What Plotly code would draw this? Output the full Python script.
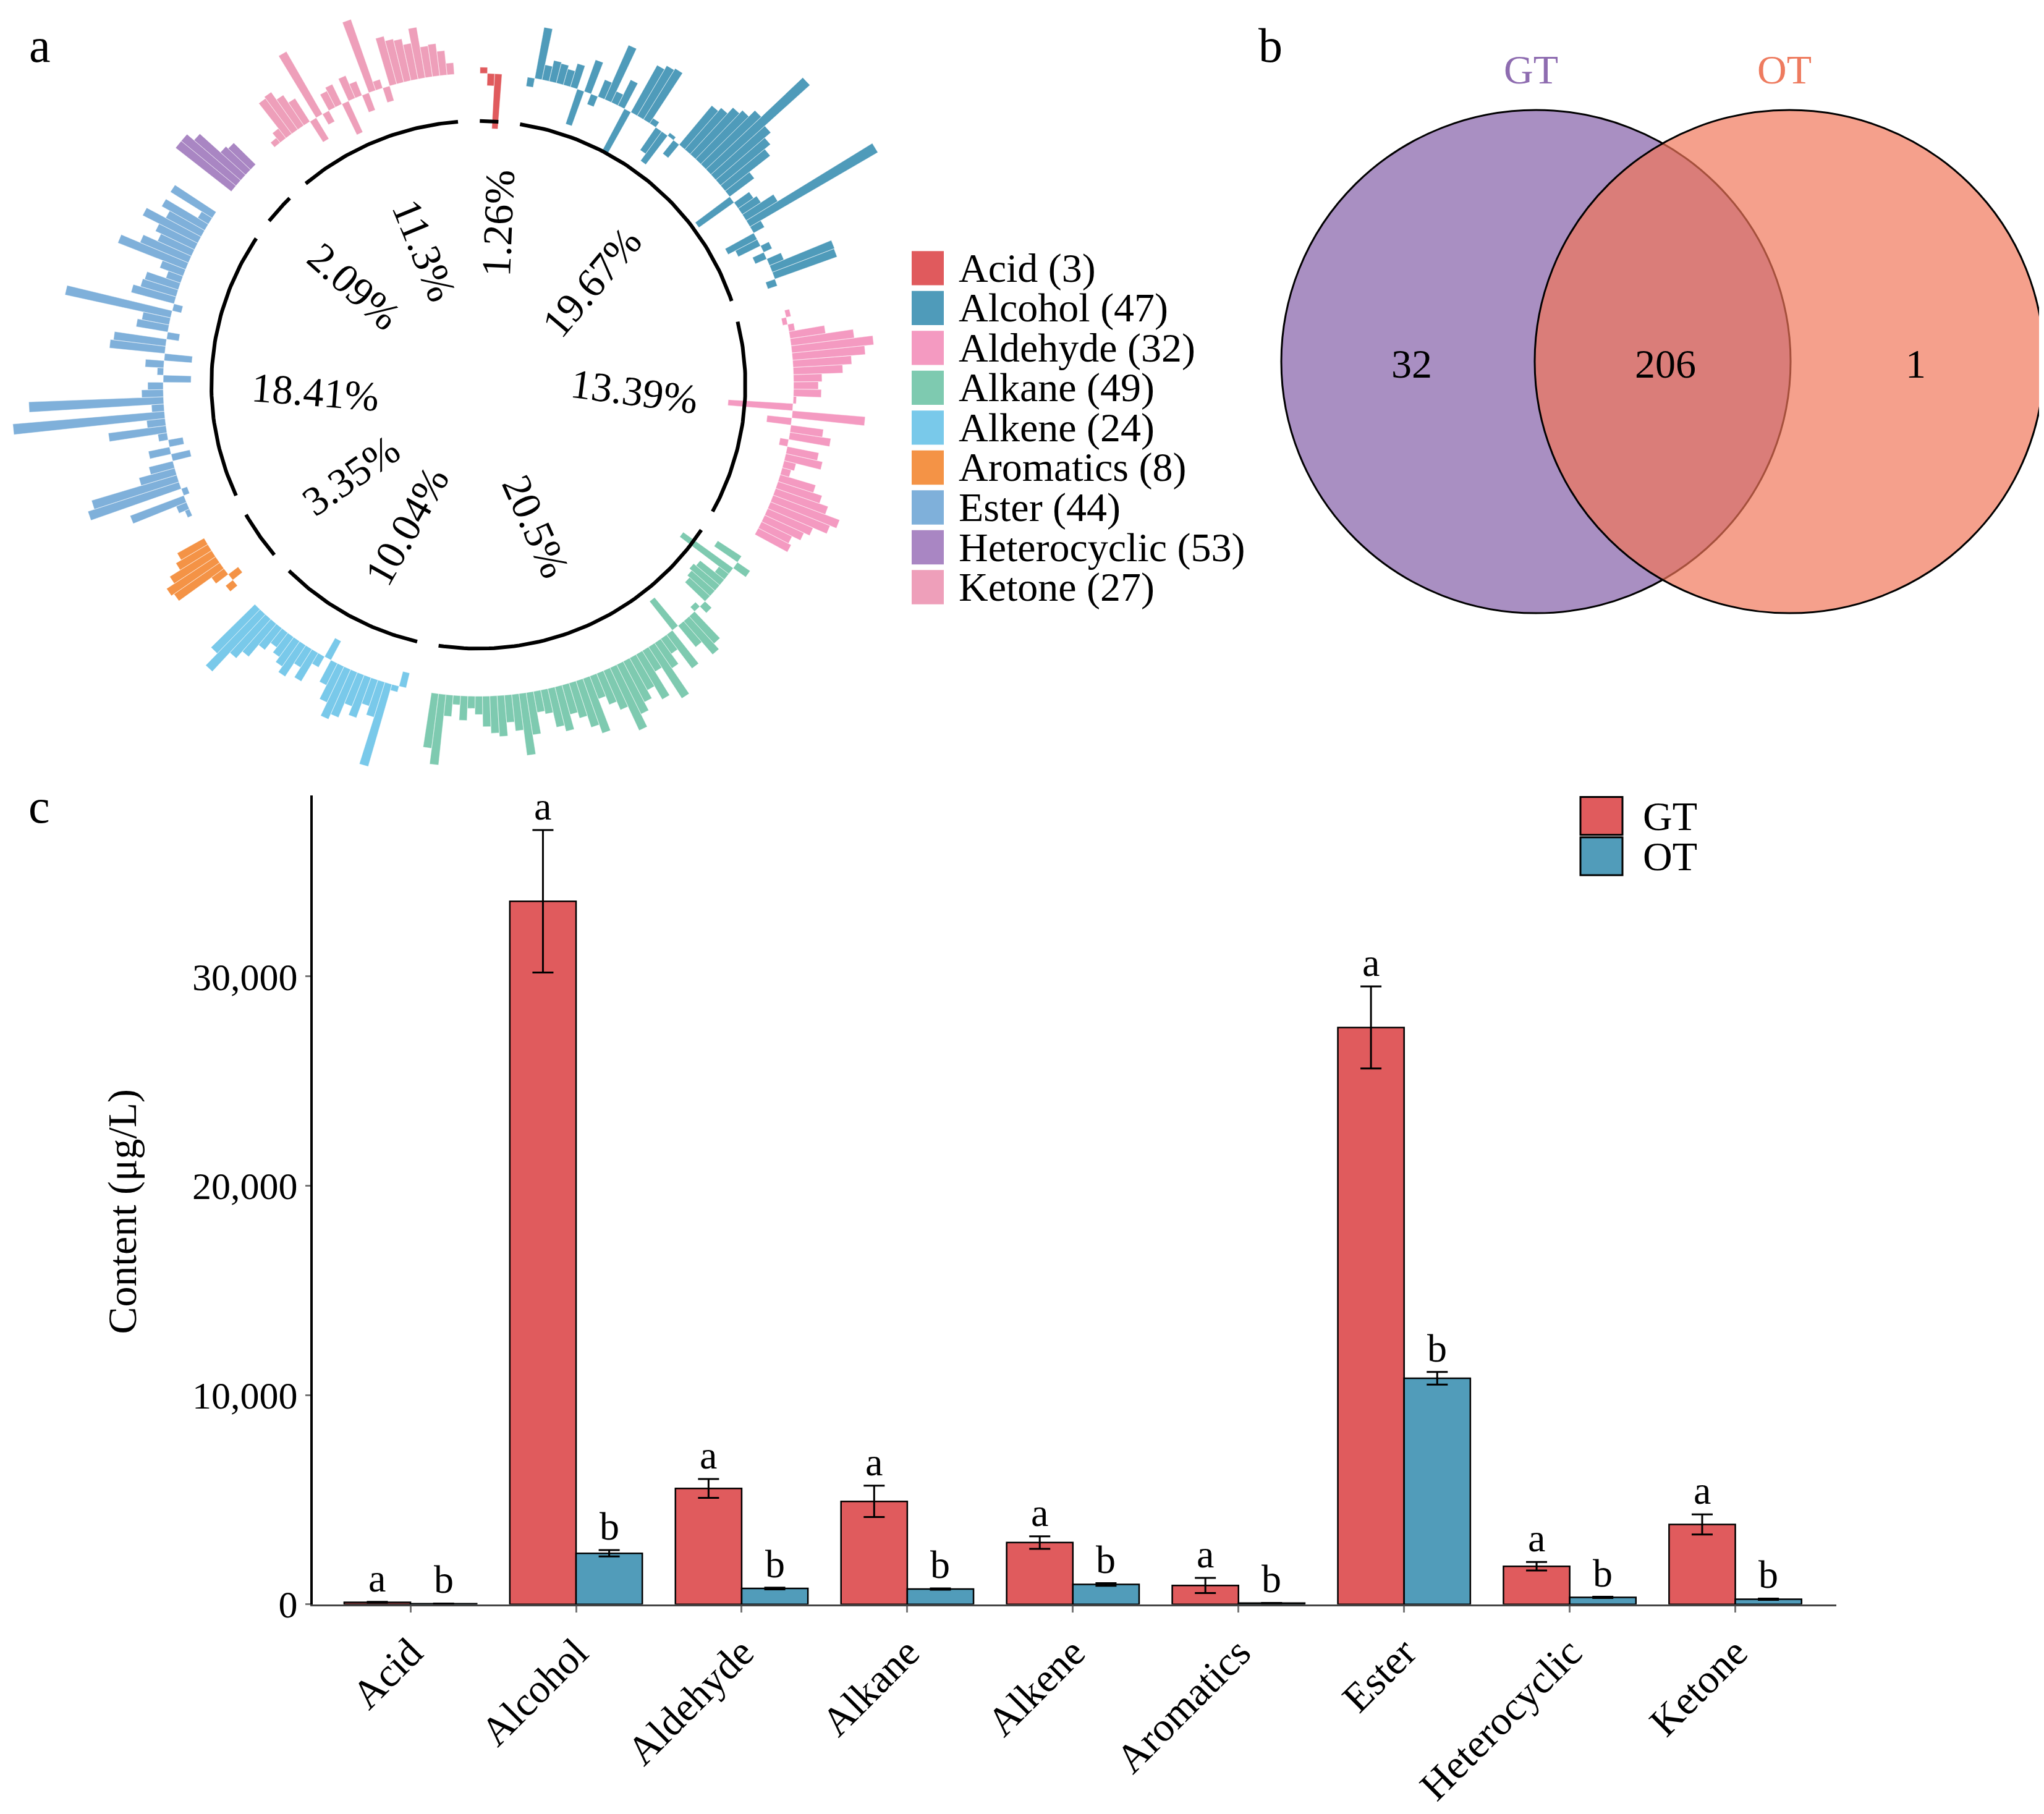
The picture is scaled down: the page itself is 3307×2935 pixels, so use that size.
import math
import plotly.graph_objects as go

W, H = 3307, 2935
FONT = "Liberation Serif"

# ---------------- Panel a data ----------------
classes = ["Acid", "Alcohol", "Aldehyde", "Alkane", "Alkene", "Aromatics", "Ester", "Heterocyclic", "Ketone"]
legend_counts = [3, 47, 32, 49, 24, 8, 44, 53, 27]
class_colors = ["#E05A5D", "#4F9BBA", "#F49AC1", "#7ECAB0", "#79C9EA", "#F49346", "#7FB0DA", "#A986C3", "#EE9FBA"]

# radial bar values (outward > 0, inward < 0, relative to the baseline ring)
acid_vals = [10, -20, -90]
alcohol_vals = [-15, 85, 25, 35, 33, 27, 40, -60, 55, -18, 30, 97, 20, 47, -80, 88, 95, 98, 10, -45,
                -59, 6, -28, 83, 90, 103, 110, 124, 217, 118, 105, 93, 50, -70, 30, 36, 60, 240, 20, -53,
                -40, 15, -20, 25, 108, 107, -16]
aldehyde_vals = [8, -8, 10, 58, 103, 133, 118, 95, 80, 46, 40, 45, 5, -105, 118, -40, 53, 67, -14, 52,
                 61, 20, 15, 60, 75, 90, 115, 104, 80, 70, 55, 60]
alkane_vals = [-46, 25, -100, -20, -50, -55, -50, -45, 15, -10, 60, 72, 45, -60, 69, 30, 50, 100, 40, 85,
               60, 75, 90, 113, 70, 55, 40, 95, 80, 60, 50, 75, 65, 40, 35, 70, 102, 60, 45, 67,
               61, 50, 30, 20, 40, 15, 35, 116, 90]
alkene_vals = [-25, 10, 140, 60, 45, 70, 55, 80, 89, 65, 40, -35, 20, 54, 35, 61, 50, 40, 30, 45,
               70, 85, 127, 100]
aromatics_vals = [15, -20, 25, 90, 95, 80, 60, 50]
ester_vals = [8, 18, 93, -10, 155, 144, 60, 40, -31, 35, -24, 15, 94, 30, 246, 20, 218, 35, 25, -45,
              10, 30, -45, 90, 85, -20, 52, 45, 175, -15, 72, 60, 57, 25, 40, 118, 85, 60, 70, 100,
              65, 80, 20, 80]
heterocyclic_vals = [115, 115, 100, 55, 50]
ketone_vals = [10, 20, 72, 75, 60, 45, -40, 118, -20, 30, 36, -56, 40, 25, -30, 123, 15, -25, 81, 73,
               70, 60, 84, 51, 53, 40, 19]
circ_values = [acid_vals, alcohol_vals, aldehyde_vals, alkane_vals, alkene_vals, aromatics_vals,
               ester_vals, heterocyclic_vals, ketone_vals]

# ---------------- Panel b data ----------------
venn_sets = ["GT", "OT"]
venn_counts = [32, 206, 1]  # GT only, shared, OT only

# ---------------- Panel c data ----------------
bar_categories = ["Acid", "Alcohol", "Aldehyde", "Alkane", "Alkene", "Aromatics", "Ester", "Heterocyclic", "Ketone"]
gt_values = [100, 33590, 5535, 4920, 2950, 900, 27560, 1820, 3820]
gt_errors = [20, 3400, 450, 750, 300, 360, 1960, 200, 480]
ot_values = [30, 2440, 760, 730, 950, 60, 10800, 330, 245]
ot_errors = [10, 150, 40, 30, 60, 10, 300, 30, 30]
gt_letters = ["a"] * 9
ot_letters = ["b"] * 9
y_ticks = [0, 10000, 20000, 30000]

# ---------------- layout constants ----------------
CX, CY = 766, 622          # centre of the circular plot (px from top-left)
A_W, A_H = 1440, 1250      # pixel box of the circular panel
BASE_R = 510
RING_R = 432
BAR_DEG = 1.33
START_DEG = 0.3
LABEL_ANG = [6.7, 47.5, 92.5, 158, 206.6, 234.4, 267.6, 308.9, 338.5]
LABEL_R = [266, 249, 253, 250, 259, 254, 264, 258, 237]


def px(x):
    return x / W


def py(y):
    return 1 - y / H


def polar_xy(r, deg):
    a = math.radians(deg)
    return r * math.sin(a), r * math.cos(a)


fig = go.Figure()

# ---------------- Panel a: circular bars ----------------
n_total = sum(len(v) for v in circ_values)
gap_deg = (360 - n_total * BAR_DEG) / len(classes)
pos = START_DEG
spans = []
for name, vals, col in zip(classes, circ_values, class_colors):
    xs, ys = [], []
    for i, v in enumerate(vals):
        t0 = pos + i * BAR_DEG
        t1 = t0 + BAR_DEG
        r0, r1 = BASE_R, BASE_R + v
        for r, t in [(r0, t0), (r1, t0), (r1, t1), (r0, t1), (r0, t0)]:
            x, y = polar_xy(r, t)
            xs.append(x)
            ys.append(y)
        xs.append(None)
        ys.append(None)
    fig.add_trace(go.Scatter(x=xs, y=ys, mode="lines", fill="toself", fillcolor=col,
                             line=dict(color="rgba(255,255,255,0.7)", width=0.7),
                             xaxis="x2", yaxis="y2", showlegend=False, hoverinfo="skip", name=name))
    spans.append((pos, pos + len(vals) * BAR_DEG))
    pos += len(vals) * BAR_DEG + gap_deg

for a0, a1 in spans:
    pts = [polar_xy(RING_R, a0 + (a1 - a0) * k / 60) for k in range(61)]
    fig.add_trace(go.Scatter(x=[p[0] for p in pts], y=[p[1] for p in pts], mode="lines",
                             line=dict(color="black", width=6), xaxis="x2", yaxis="y2",
                             showlegend=False, hoverinfo="skip"))

annotations = []
shapes = []

# percentage labels
for i, vals in enumerate(circ_values):
    pct = len(vals) / n_total * 100
    txt = f"{round(pct, 2):g}%"
    mid = (spans[i][0] + spans[i][1]) / 2
    rot = mid - 90 if mid < 180 else mid - 270
    x, y = polar_xy(LABEL_R[i], LABEL_ANG[i])
    annotations.append(dict(x=x, y=y, xref="x2", yref="y2", text=txt,
                            textangle=rot, showarrow=False, xanchor="center", yanchor="middle",
                            font=dict(family=FONT, size=67, color="black")))

# legend of panel a
LEG_X0, LEG_Y0, LEG_STEP = 1467, 431, 65.3
for i, (name, cnt, col) in enumerate(zip(classes, legend_counts, class_colors)):
    yc = LEG_Y0 + i * LEG_STEP
    shapes.append(dict(type="rect", xref="paper", yref="paper",
                       x0=px(LEG_X0), x1=px(LEG_X0 + 52), y0=py(yc - 28), y1=py(yc + 28),
                       fillcolor=col, line=dict(width=0)))
    annotations.append(dict(x=px(1541), y=py(yc), xref="paper", yref="paper",
                            text=f"{name} ({cnt})", showarrow=False, xanchor="left", yanchor="middle",
                            font=dict(family=FONT, size=66, color="black")))

# ---------------- Panel b: Venn ----------------
VR = 412
venn_centres = [(2477, 584), (2887, 584)]
venn_fill = ["rgb(169,143,194)", "rgba(240,117,88,0.686)"]
venn_label_col = ["#8E6CB0", "#EE7B5F"]
for (cx, cy), fc in zip(venn_centres, venn_fill):
    shapes.append(dict(type="circle", xref="paper", yref="paper",
                       x0=px(cx - VR), x1=px(cx + VR), y0=py(cy + VR), y1=py(cy - VR),
                       fillcolor=fc, line=dict(color="black", width=3), layer="below"))
for (cx, cy), s, lc in zip(venn_centres, venn_sets, venn_label_col):
    annotations.append(dict(x=px(cx - 8), y=py(106), xref="paper", yref="paper", text=s,
                            showarrow=False, xanchor="center", yanchor="middle",
                            font=dict(family=FONT, size=66, color=lc)))
for xv, c in zip([2276, 2686, 3091], venn_counts):
    annotations.append(dict(x=px(xv), y=py(588), xref="paper", yref="paper", text=str(c),
                            showarrow=False, xanchor="center", yanchor="middle",
                            font=dict(family=FONT, size=66, color="black")))

# ---------------- Panel c: grouped bars ----------------
GT_COL, OT_COL = "#E05B5D", "#519CBA"
fig.add_trace(go.Bar(x=bar_categories, y=gt_values, name="GT",
                     marker=dict(color=GT_COL, line=dict(color="black", width=2.5)),
                     error_y=dict(type="data", array=gt_errors, color="black", thickness=3, width=17),
                     showlegend=False, xaxis="x", yaxis="y"))
fig.add_trace(go.Bar(x=bar_categories, y=ot_values, name="OT",
                     marker=dict(color=OT_COL, line=dict(color="black", width=2.5)),
                     error_y=dict(type="data", array=ot_errors, color="black", thickness=3, width=17),
                     showlegend=False, xaxis="x", yaxis="y"))

for i in range(len(bar_categories)):
    annotations.append(dict(x=i - 0.2, y=gt_values[i] + gt_errors[i] + 30, xref="x", yref="y",
                            text=gt_letters[i], showarrow=False, yanchor="bottom",
                            font=dict(family=FONT, size=64, color="black")))
    annotations.append(dict(x=i + 0.2, y=ot_values[i] + ot_errors[i] + 30, xref="x", yref="y",
                            text=ot_letters[i], showarrow=False, yanchor="bottom",
                            font=dict(family=FONT, size=64, color="black")))

annotations.append(dict(x=px(190), y=py(1976), xref="paper", yref="paper", text="Content (μg/L)",
                        textangle=-90, showarrow=False, xanchor="center", yanchor="middle",
                        font=dict(family=FONT, size=66, color="black")))

# legend of panel c
for j, (s, col) in enumerate(zip(venn_sets, [GT_COL, OT_COL])):
    y0 = 1297 + j * 66
    shapes.append(dict(type="rect", xref="paper", yref="paper",
                       x0=px(2549), x1=px(2617), y0=py(y0 + 62), y1=py(y0),
                       fillcolor=col, line=dict(color="black", width=3)))
    annotations.append(dict(x=px(2648), y=py(y0 + 31), xref="paper", yref="paper", text=s,
                            showarrow=False, xanchor="left", yanchor="middle",
                            font=dict(family=FONT, size=66, color="black")))

# panel letters
for t, (xv, yv) in zip(["a", "b", "c"], [(57, 66), (2047, 66), (55, 1312)]):
    annotations.append(dict(x=px(xv), y=py(yv), xref="paper", yref="paper", text=t,
                            showarrow=False, xanchor="center", yanchor="middle",
                            font=dict(family=FONT, size=78, color="black")))

fig.update_layout(
    width=W, height=H, margin=dict(l=0, r=0, t=0, b=0),
    paper_bgcolor="white", plot_bgcolor="rgba(0,0,0,0)",
    font=dict(family=FONT, color="black"),
    barmode="group", bargap=0.2, bargroupgap=0,
    xaxis2=dict(domain=[0, px(A_W)], anchor="y2", range=[-CX, A_W - CX], visible=False,
                fixedrange=True),
    yaxis2=dict(domain=[py(A_H), 1], anchor="x2", range=[CY - A_H, CY], visible=False,
                fixedrange=True),
    xaxis=dict(domain=[px(498), px(2963)], anchor="y", range=[-0.59, 8.61],
               showline=True, linecolor="#444", linewidth=2.5, ticks="outside", ticklen=10,
               tickwidth=3, tickcolor="#777", tickangle=-45, showgrid=False, zeroline=False,
               tickfont=dict(family=FONT, size=66, color="black")),
    yaxis=dict(domain=[py(2619), py(1294)], anchor="x", range=[0, 38660],
               showline=True, linecolor="black", linewidth=4, ticks="outside", ticklen=8,
               tickwidth=3, tickcolor="#777", showgrid=False, zeroline=False,
               tickvals=y_ticks, ticktext=[f"{v:,}" for v in y_ticks],
               tickfont=dict(family=FONT, size=62, color="black")),
    annotations=annotations, shapes=shapes,
)

fig.write_html("out.html")
